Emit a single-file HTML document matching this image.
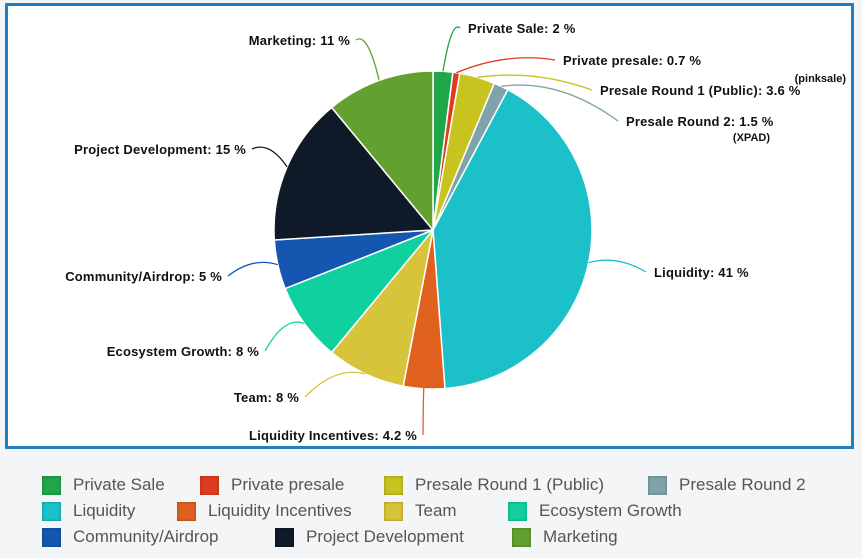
<!DOCTYPE html>
<html><head><meta charset="utf-8"><style>
body{margin:0;width:862px;height:558px;background:#f4f5f6;font-family:"Liberation Sans",sans-serif;overflow:hidden}
#box{position:absolute;left:5px;top:3px;width:843px;height:440px;border:3px solid #1f7fc0;background:#fff}
.lg{position:absolute;font-size:17px;color:#555;display:flex;align-items:center}
.sw{width:19px;height:19px;margin-right:12px;box-shadow:inset 0 0 3px rgba(0,0,0,.3)}
</style></head><body>
<div id="box"></div>
<svg id="pie" width="862" height="558" style="position:absolute;left:0;top:0"></svg>
<div id="legend"></div>
<script>
const categories=["Private Sale","Private presale","Presale Round 1 (Public)","Presale Round 2","Liquidity","Liquidity Incentives","Team","Ecosystem Growth","Community/Airdrop","Project Development","Marketing"];
const values=[2,0.7,3.6,1.5,41,4.2,8,8,5,15,11];
const labelText=["Private Sale: 2 %","Private presale: 0.7 %","Presale Round 1 (Public): 3.6 %","Presale Round 2: 1.5 %","Liquidity: 41 %","Liquidity Incentives: 4.2 %","Team: 8 %","Ecosystem Growth: 8 %","Community/Airdrop: 5 %","Project Development: 15 %","Marketing: 11 %"];
const colors=["#1fa64a","#e03b1e","#c8c31e","#7fa3a8","#1cc0c8","#e0601e","#d8c43a","#10d0a0","#1456b0","#0e1a28","#62a030"];
const labelPos=[[468,33,"start"],[563,65,"start"],[600,95,"start"],[626,126,"start"],[654,277,"start"],[417,440,"end"],[299,402,"end"],[259,356,"end"],[222,281,"end"],[246,154,"end"],[350,45,"end"]];
const svg=document.getElementById('pie');const NS="http://www.w3.org/2000/svg";
const cx=433,cy=230,r=159;
const total=values.reduce((a,b)=>a+b,0);
function pt(a,rr){return [cx+rr*Math.sin(a),cy-rr*Math.cos(a)];}
let a0=0;
values.forEach((v,i)=>{
  const a1=a0+v/total*2*Math.PI;
  const p0=pt(a0,r),p1=pt(a1,r),large=(a1-a0)>Math.PI?1:0;
  const p=document.createElementNS(NS,'path');
  p.setAttribute('d',`M${cx},${cy}L${p0[0]},${p0[1]}A${r},${r} 0 ${large} 1 ${p1[0]},${p1[1]}Z`);
  p.setAttribute('fill',colors[i]);p.setAttribute('stroke','#fff');p.setAttribute('stroke-width','1.5');
  
  
  svg.appendChild(p);
  const am=(a0+a1)/2,e=pt(am,r),[lx,ly,anc]=labelPos[i];
  const ln=document.createElementNS(NS,'path');
  const ex=anc=="start"?lx-8:lx+6;
  ln.setAttribute('d',`M${e[0]},${e[1]}Q${(e[0]+ex)/2},${Math.min(e[1],ly-5)-8} ${ex},${ly-5}`);
  ln.setAttribute('fill','none');ln.setAttribute('stroke',colors[i]);ln.setAttribute('stroke-width','1.3');
  
  
  svg.appendChild(ln);
  const t=document.createElementNS(NS,'text');
  t.setAttribute('x',lx);t.setAttribute('y',ly);t.setAttribute('text-anchor',anc);
  t.setAttribute('font-size','13');t.setAttribute('font-weight','bold');t.setAttribute('fill','#111');t.setAttribute('letter-spacing','0.2');
  t.textContent=labelText[i];
  
  
  svg.appendChild(t);
  a0=a1;
});
[["(pinksale)",846,82],["(XPAD)",770,141]].forEach(([s,x,y])=>{const t=document.createElementNS(NS,'text');t.setAttribute('x',x);t.setAttribute('y',y);t.setAttribute('text-anchor','end');t.setAttribute('font-size','11');t.setAttribute('font-weight','bold');t.setAttribute('fill','#111');t.textContent=s;


svg.appendChild(t);});
const legX=[[42,200,384,648],[42,177,384,508],[42,275,512]];
const lg=document.getElementById('legend');let k=0;
legX.forEach((row,ri)=>row.forEach(x=>{const i=k++;const d=document.createElement('div');d.className='lg';d.style.left=x+'px';d.style.top=(475+ri*26)+'px';
d.innerHTML=`<span class="sw" style="background:${colors[i]}"></span>${categories[i]}`;


lg.appendChild(d);}));
</script>
</body></html>
